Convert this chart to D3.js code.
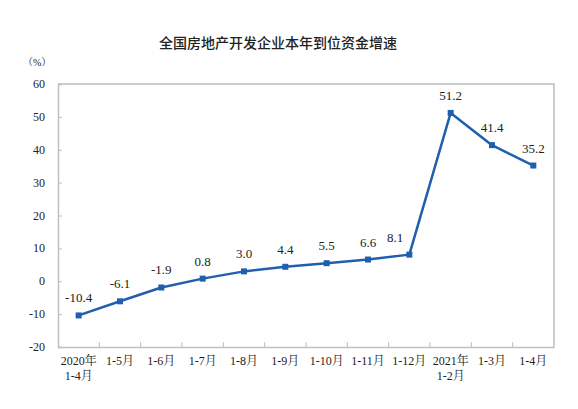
<!DOCTYPE html>
<html>
<head>
<meta charset="utf-8">
<script src="https://cdn.jsdelivr.net/npm/d3@7"></script>
<style>
  body { margin: 0; background: #fff; }
  text { font-family: "Liberation Serif", "Noto Serif CJK SC", "Noto Sans CJK SC", serif; fill: #222; }
  .title { font-family: "Noto Sans CJK SC", sans-serif; font-weight: 500; font-size: 14px; }
</style>
</head>
<body>
<svg id="chart"></svg>
<script>
//-------------------------------------------------
// data
//-------------------------------------------------
var categories = ["2020年\n1-4月", "1-5月", "1-6月", "1-7月", "1-8月", "1-9月",
                  "1-10月", "1-11月", "1-12月", "2021年\n1-2月", "1-3月", "1-4月"];
var growth = [-10.4, -6.1, -1.9, 0.8, 3.0, 4.4, 5.5, 6.6, 8.1, 51.2, 41.4, 35.2];
var yTicks = [-20, -10, 0, 10, 20, 30, 40, 50, 60];
var titleText = "全国房地产开发企业本年到位资金增速";
//-------------------------------------------------

var width = 578, height = 409;
var margin = {top: 84, right: 24, bottom: 62, left: 58};
var lineColor = "#1f5fae";
var axisColor = "#bfbfbf";

var svg = d3.select("#chart")
  .attr("width", width)
  .attr("height", height);

var x = d3.scaleBand()
  .domain(categories)
  .range([margin.left, width - margin.right]);

var y = d3.scaleLinear()
  .domain([-20, 60])
  .range([height - margin.bottom, margin.top]);

function cx(i) { return x(categories[i]) + x.bandwidth() / 2; }

// title
svg.append("text")
  .attr("class", "title")
  .attr("x", 278)
  .attr("y", 48)
  .attr("text-anchor", "middle")
  .text(titleText);

svg.append("text")
  .attr("x", 23)
  .attr("y", 66)
  .style("font-size", "10px")
  .text("（%）");

// frame (top and right)
svg.append("path")
  .attr("d", "M" + margin.left + "," + margin.top + "H" + (width - margin.right) + "V" + (height - margin.bottom))
  .attr("fill", "none")
  .attr("stroke", axisColor)
  .attr("stroke-width", 1.5);

// y axis
var yAxis = svg.append("g")
  .attr("transform", "translate(" + margin.left + ",0)")
  .call(d3.axisRight(y).tickValues(yTicks).tickSize(4).tickFormat(""));
yAxis.select(".domain").attr("stroke", axisColor).attr("stroke-width", 1.5);
yAxis.selectAll(".tick line").attr("stroke", axisColor);

svg.selectAll(".ylab")
  .data(yTicks)
  .enter()
  .append("text")
  .attr("class", "ylab")
  .attr("x", 45)
  .attr("y", function(d) { return y(d) + 4; })
  .attr("text-anchor", "end")
  .style("font-size", "12px")
  .text(function(d) { return d; });

// x axis
var xAxis = svg.append("g")
  .attr("transform", "translate(0," + (height - margin.bottom) + ")")
  .call(d3.axisBottom(x).tickSize(0).tickFormat(""));
xAxis.select(".domain").attr("stroke", axisColor).attr("stroke-width", 1.5);

// tick marks at category boundaries, pointing up
svg.selectAll(".xtick")
  .data(categories.slice(1))
  .enter()
  .append("line")
  .attr("class", "xtick")
  .attr("x1", function(d) { return x(d); })
  .attr("x2", function(d) { return x(d); })
  .attr("y1", height - margin.bottom)
  .attr("y2", height - margin.bottom - 5)
  .attr("stroke", axisColor);

var xlab = svg.selectAll(".xlab")
  .data(categories)
  .enter()
  .append("text")
  .attr("class", "xlab")
  .attr("text-anchor", "middle")
  .style("font-size", "12px");
xlab.each(function(d) {
  var lines = d.split("\n");
  var t = d3.select(this);
  lines.forEach(function(s, i) {
    t.append("tspan")
      .attr("x", x(d) + x.bandwidth() / 2)
      .attr("y", 365 + i * 15)
      .text(s);
  });
});

// line
var line = d3.line()
  .x(function(d, i) { return cx(i); })
  .y(function(d) { return y(d); });

svg.append("path")
  .datum(growth)
  .attr("d", line)
  .attr("fill", "none")
  .attr("stroke", lineColor)
  .attr("stroke-width", 2.5)
  .attr("stroke-linejoin", "round");

svg.selectAll(".pt")
  .data(growth)
  .enter()
  .append("rect")
  .attr("class", "pt")
  .attr("x", function(d, i) { return cx(i) - 3; })
  .attr("y", function(d) { return y(d) - 3; })
  .attr("width", 6)
  .attr("height", 6)
  .attr("fill", lineColor);

// value labels; shift left when the next segment climbs steeply
function steep(i) { return i < growth.length - 1 && growth[i + 1] - growth[i] > 20; }

svg.selectAll(".vlab")
  .data(growth)
  .enter()
  .append("text")
  .attr("class", "vlab")
  .attr("x", function(d, i) { return steep(i) ? cx(i) - 6 : cx(i); })
  .attr("y", function(d) { return y(d) - 13; })
  .attr("text-anchor", function(d, i) { return steep(i) ? "end" : "middle"; })
  .style("font-size", "13px")
  .text(function(d) { return d.toFixed(1); });
</script>
</body>
</html>
